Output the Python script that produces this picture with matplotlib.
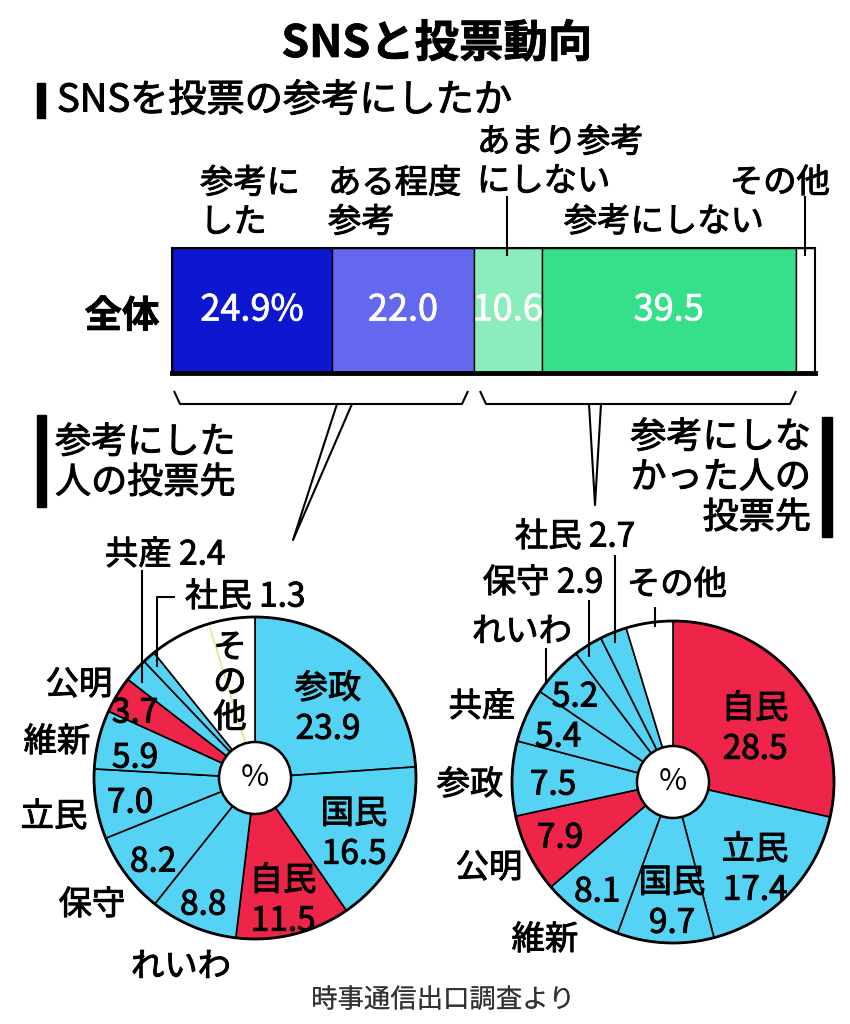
import matplotlib
matplotlib.use("Agg")
import matplotlib.pyplot as plt
import matplotlib.patheffects as pe
from matplotlib.patches import Circle, Rectangle

plt.rcParams["font.family"] = ["Noto Sans CJK JP", "DejaVu Sans"]

W, H = 850, 1024

# SNSを投票の参考にしたか (全体)
bar_labels = ["参考に\nした", "ある程度\n参考", "あまり参考\nにしない", "参考にしない", "その他"]
bar_values = [24.9, 22.0, 10.6, 39.5, 3.0]
bar_colors = ["#0c17cf", "#6468ef", "#8aedbb", "#36df8a", "white"]

# 参考にした人の投票先
left_parties = ["参政", "国民", "自民", "れいわ", "保守", "立民", "維新", "公明", "共産", "社民", "その他"]
left_values = [23.9, 16.5, 11.5, 8.8, 8.2, 7.0, 5.9, 3.7, 2.4, 1.3, 10.8]

# 参考にしなかった人の投票先
right_parties = ["自民", "立民", "国民", "維新", "公明", "参政", "共産", "れいわ", "保守", "社民", "その他"]
right_values = [28.5, 17.4, 9.7, 8.1, 7.9, 7.5, 5.4, 5.2, 2.9, 2.7, 4.7]

BLUE = "#55d3f5"
RED = "#ee2449"


def party_color(p):
    if p in ("自民", "公明"):
        return RED
    if p == "その他":
        return "white"
    return BLUE


def Y(y):
    # picture rows run downward, axes y runs upward
    return H - y


def heavy(color="black", w=0.7):
    # the print font is a bit heavier than Noto regular
    return [pe.withStroke(linewidth=w, foreground=color)]


fig = plt.figure(figsize=(W / 100, H / 100), dpi=100)

# ---- stacked bar ----
bx0, bx1, by0, by1 = 172, 815, 248, 373
bax = fig.add_axes([bx0 / W, 1 - by1 / H, (bx1 - bx0) / W, (by1 - by0) / H])
left = 0
for v, c in zip(bar_values, bar_colors):
    bax.barh(0, v, left=left, height=1, color=c, edgecolor="black", linewidth=1)
    left += v
bax.set_xlim(0, 100)
bax.set_ylim(-0.5, 0.5)
bax.set_xticks([])
bax.set_yticks([])
for s in bax.spines.values():
    s.set_linewidth(1.5)
bax.spines["bottom"].set_linewidth(3.5)
left = 0
for i, v in enumerate(bar_values[:4]):
    txt = f"{v:.1f}%" if i == 0 else f"{v:.1f}"
    bax.text(left + v / 2, 0, txt, color="white", fontsize=26,
             ha="center", va="center", path_effects=heavy("white", 0.5))
    left += v

# ---- overlay axes in picture pixels ----
ax = fig.add_axes([0, 0, 1, 1])
ax.set_facecolor("none")


def draw_pie(values, parties, cx, cy, r=161, hole=36):
    ax.pie(values, colors=[party_color(p) for p in parties],
           startangle=90, counterclock=False, center=(cx, Y(cy)), radius=r,
           wedgeprops=dict(edgecolor="black", linewidth=1.2))
    ax.add_patch(Circle((cx, Y(cy)), r, fill=False, edgecolor="black", lw=2))
    ax.add_patch(Circle((cx, Y(cy)), hole, facecolor="white",
                        edgecolor="black", lw=1.8, zorder=3))
    ax.text(cx, Y(cy), "%", fontsize=22, ha="center", va="center", zorder=4)


draw_pie(left_values, left_parties, 255, 778)
draw_pie(right_values, right_parties, 673, 782)

ax.set_xlim(0, W)
ax.set_ylim(0, H)
ax.set_aspect("auto")
ax.axis("off")

FS = 24


def t(x, y, s, ha="center", fs=FS, color="black", w=0.7, **kw):
    ax.text(x, Y(y), s, fontsize=fs, ha=ha, va="center", zorder=5,
            color=color, path_effects=heavy(color, w), **kw)


def line(xs, ys, lw=1.5):
    ax.plot(xs, [Y(v) for v in ys], color="black", lw=lw, zorder=5,
            solid_capstyle="butt")


# titles
t(437, 44, "SNSと投票動向", fs=32, weight="bold", w=0.5)
ax.add_patch(Rectangle((37, Y(118)), 8, 35, color="black"))
t(57, 101, "SNSを投票の参考にしたか", ha="left", fs=27.5)

# bar labels
t(200, 203, bar_labels[0], ha="left", linespacing=1.15)
t(328, 203, bar_labels[1], ha="left", linespacing=1.15)
t(477, 162, bar_labels[2], ha="left", linespacing=1.15)
t(664, 222, bar_labels[3])
t(830, 183, bar_labels[4], ha="right")
line([507, 507], [196, 256])
line([805, 805], [196, 256])
t(122, 316, "全体", fs=27, weight="bold", w=0.5)

# braces and pointers
line([174, 180, 462, 468], [391, 404, 404, 391])
line([337, 293, 352], [404, 540, 404])
line([480, 486, 790, 796], [391, 404, 404, 391])
line([589, 595, 601], [404, 505, 404])

# section headers
ax.add_patch(Rectangle((37, Y(507)), 9, 92, color="black"))
t(55, 463, "参考にした\n人の投票先", ha="left", fs=26, linespacing=1.15)
ax.add_patch(Rectangle((822, Y(537)), 10, 120, color="black"))
t(811, 478, "参考にしな\nかった人の\n投票先", ha="right", fs=26,
  linespacing=1.15, multialignment="right")

lv = dict(zip(left_parties, left_values))
rv = dict(zip(right_parties, right_values))

# left pie labels
t(328, 709, f"参政\n{lv['参政']}", linespacing=1.2)
t(354, 834, f"国民\n{lv['国民']}", linespacing=1.2)
t(283, 901, f"自民\n{lv['自民']}", linespacing=1.2)
for name, nx, ny, vx, vy in [("れいわ", 181, 967, 203, 905),
                             ("保守", 92, 905, 153, 862),
                             ("立民", 54, 817, 130, 803),
                             ("維新", 57, 742, 135, 758),
                             ("公明", 79, 685, 135, 713)]:
    t(nx, ny, name)
    t(vx, vy, f"{lv[name]}")
t(105, 555, f"共産 {lv['共産']}", ha="left")
t(185, 597, f"社民 {lv['社民']}", ha="left")
line([142, 142], [570, 683])
line([175, 157, 157], [597, 597, 667])
t(230, 683, "そ\nの\n他", linespacing=1.0)
ax.plot([210, 246], [Y(628), Y(745)], color="#e6e070", lw=1, zorder=2)

# right pie labels
t(755, 729, f"自民\n{rv['自民']}", linespacing=1.2)
t(755, 870, f"立民\n{rv['立民']}", linespacing=1.2)
t(672, 903, f"国民\n{rv['国民']}", linespacing=1.2)
for name, nx, ny, vx, vy in [("維新", 545, 940, 597, 892),
                             ("公明", 489, 868, 560, 838),
                             ("参政", 470, 785, 553, 785),
                             ("共産", 482, 707, 558, 737),
                             ("れいわ", 522, 632, 575, 697)]:
    t(nx, ny, name)
    t(vx, vy, f"{rv[name]}")
t(575, 537, f"社民 {rv['社民']}")
t(543, 583, f"保守 {rv['保守']}")
t(677, 585, "その他")
line([615, 615], [555, 643])
line([589, 589], [600, 657])
line([655, 655], [607, 627])
line([546, 546], [648, 683])

# source
t(443, 1000, "時事通信出口調査より", fs=19, color="#333333", w=0.01)

fig.savefig("out.png", dpi=100)
